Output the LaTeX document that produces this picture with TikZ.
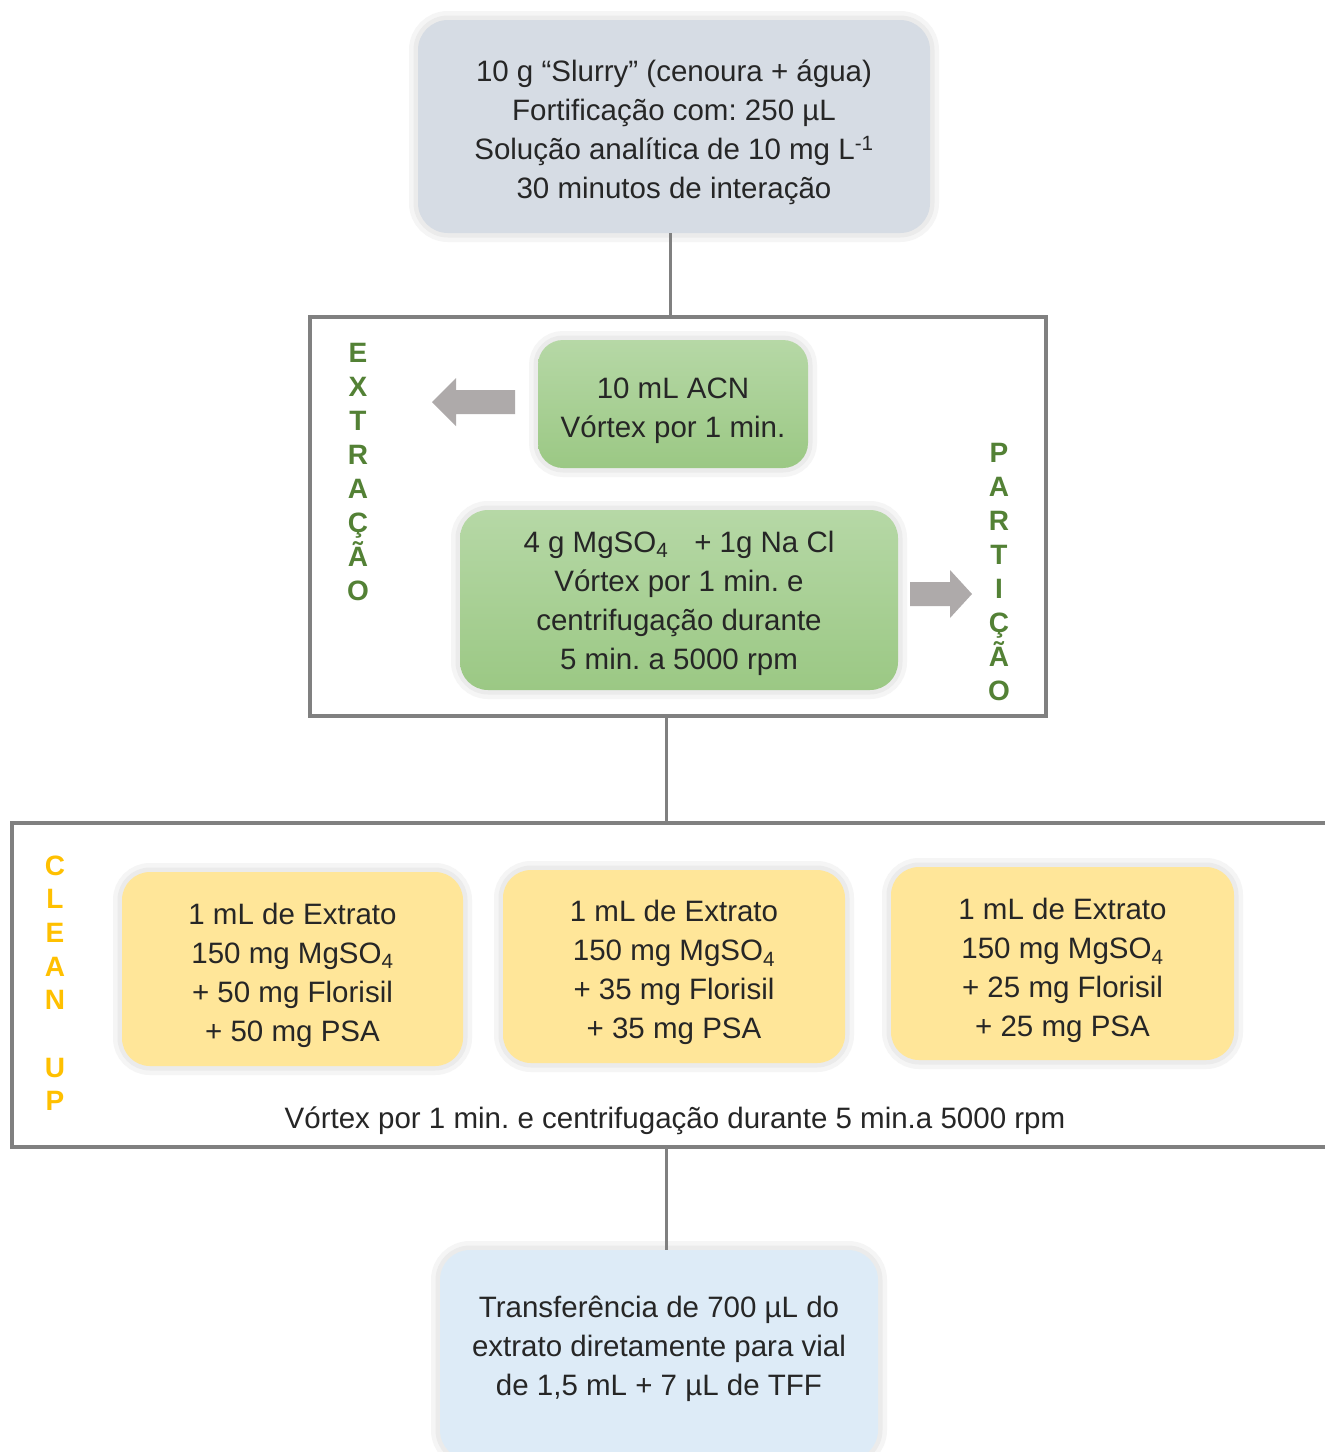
\documentclass[tikz,border=0pt]{standalone}
\usepackage{fontspec}
\setmainfont{Liberation Sans}
\frenchspacing
\definecolor{topfill}{HTML}{D6DCE4}
\definecolor{grtop}{HTML}{B6D8A6}
\definecolor{grbot}{HTML}{9BC884}
\definecolor{yel}{HTML}{FFE699}
\definecolor{botfill}{HTML}{DDEBF7}
\definecolor{lgray}{HTML}{808080}
\definecolor{arrgray}{HTML}{AEAAAA}
\definecolor{lettgreen}{HTML}{538135}
\definecolor{lettorange}{HTML}{FFC000}
\definecolor{txt}{HTML}{262626}
\begin{document}
\begin{tikzpicture}[x=1pt,y=-1pt,
  box/.style={rounded corners=30pt, inner sep=0pt,
    preaction={draw=black!4, line width=18pt},
    preaction={draw=black!8, line width=9pt}},
  btxt/.style={align=center, inner sep=0pt, text=txt,
    font=\fontsize{29.5}{39}\selectfont},
  conn/.style={draw=lgray, line width=3pt},
  frame/.style={draw=lgray, line width=4pt},
  vlet/.style={font=\bfseries\fontsize{28}{34}\selectfont, anchor=base, inner sep=0pt},
  arr/.style={fill=arrgray}
]
\useasboundingbox[fill=white] (0,0) rectangle (1325,1452);

% top box
\node[box, fill=topfill, minimum width=512pt, minimum height=213pt] (top) at (674,126.5) {};
\node[btxt] (topt) at ([yshift=-6pt]top.center)
  {10 g “Slurry” (cenoura + água)\\Fortificação com: 250 µL\\Solução analítica de 10 mg L\textsuperscript{-1}\\30 minutos de interação};

% extraction frame
\node[frame, minimum width=736pt, minimum height=399pt, inner sep=0pt] (ext) at (678,516.5) {};

\node[box, rounded corners=25pt, top color=grtop, bottom color=grbot, minimum width=270pt, minimum height=128pt] (g1) at (673,404) {};
\node[btxt] (g1t) at ([yshift=-7pt]g1.center) {10 mL ACN\\Vórtex por 1 min.};
\node[box, rounded corners=28pt, top color=grtop, bottom color=grbot, minimum width=438pt, minimum height=180pt] (g2) at (679,600) {};
\node[btxt] (g2t) at ([yshift=-3pt]g2.center)
  {4 g MgSO\textsubscript{4}\hspace{0.6em} + 1g Na Cl\\Vórtex por 1 min. e\\centrifugação durante\\5 min. a 5000 rpm};

% gray block arrows
\fill[arr] (515,390) -- (456,390) -- (456,378) -- (432,402) -- (456,426) -- (456,414) -- (515,414) -- cycle;
\fill[arr] (910,582) -- (950,582) -- (950,570) -- (972,594) -- (950,618) -- (950,606) -- (910,606) -- cycle;

% vertical words
\foreach \l [count=\i from 0] in {E,X,T,R,A,Ç,Ã,O}
  \node[vlet, text=lettgreen] (ex\i) at (358,362+34*\i) {\l};
\foreach \l [count=\i from 0] in {P,A,R,T,I,Ç,Ã,O}
  \node[vlet, text=lettgreen] (pa\i) at (999,462+34*\i) {\l};

% clean-up frame (open on the right)
\coordinate (cleantop) at (666,823);
\coordinate (cleanbot) at (666,1147);
\draw[frame] (1340,823) -- (12,823) -- (12,1147) -- (1340,1147);

\foreach \l/\k in {C/0,L/1,E/2,A/3,N/4,U/6,P/7}
  \node[vlet, text=lettorange] (cl\k) at (55,875+33.7*\k) {\l};

\node[box, rounded corners=28pt, fill=yel, minimum width=341pt, minimum height=194pt] (y1) at (292.5,969) {};
\node[btxt] (y1t) at ([yshift=-6pt]y1.center)
  {1 mL de Extrato\\150 mg MgSO\textsubscript{4}\\+ 50 mg Florisil\\+ 50 mg PSA};
\node[box, rounded corners=28pt, fill=yel, minimum width=342pt, minimum height=193pt] (y2) at (674,966.5) {};
\node[btxt] (y2t) at ([yshift=-6pt]y2.center)
  {1 mL de Extrato\\150 mg MgSO\textsubscript{4}\\+ 35 mg Florisil\\+ 35 mg PSA};
\node[box, rounded corners=28pt, fill=yel, minimum width=343pt, minimum height=193pt] (y3) at (1062.5,963.5) {};
\node[btxt] (y3t) at ([yshift=-7pt]y3.center)
  {1 mL de Extrato\\150 mg MgSO\textsubscript{4}\\+ 25 mg Florisil\\+ 25 mg PSA};

\node[btxt] (vort) at (675,1121)
  {Vórtex por 1 min. e centrifugação durante 5 min.a 5000 rpm};

% final box
\node[box, fill=botfill, minimum width=438pt, minimum height=210pt] (fin) at (659,1355) {};
\node[btxt] (fint) at ([yshift=6pt]fin.center)
  {Transferência de 700 µL do\\extrato diretamente para vial\\de 1,5 mL + 7 µL de TFF};

% connectors
\draw[conn] ([xshift=-4pt]top.south) -- ([xshift=-4pt]top.south |- ext.north);
\draw[conn] ([xshift=-12pt]ext.south) -- (cleantop);
\draw[conn] (cleanbot) -- (cleanbot |- fin.north);
\end{tikzpicture}
\end{document}
